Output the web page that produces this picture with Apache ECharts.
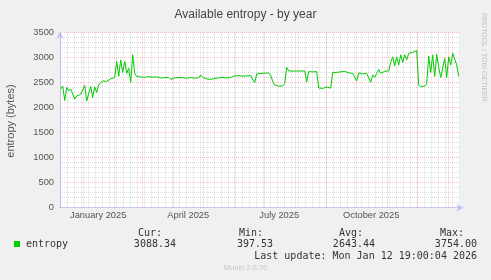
<!DOCTYPE html>
<html><head><meta charset="utf-8">
<script src="https://cdn.jsdelivr.net/npm/echarts@6/dist/echarts.min.js"></script>
<style>html,body{margin:0;padding:0;background:#f0f0f0}#c{width:491px;height:280px}</style>
</head><body><div id="c"></div>
<script>
const chartTitle = 'Available entropy - by year';
const yAxisName = 'entropy (bytes)';
const seriesName = 'entropy';
const watermark = 'RRDTOOL / TOBI OETIKER';
const footer = 'Munin 2.0.76';
const lastUpdate = 'Last update: Mon Jan 12 19:00:04 2026';
const statHeaders = ['Cur:', 'Min:', 'Avg:', 'Max:'];
const statValues = ['3088.34', '397.53', '2643.44', '3754.00'];

// samples every 2 days starting Dec 9 2024
const startTime = Date.UTC(2024, 11, 9, 12);
const stepDays = 2;
const entropy = [
  2370, 2430, 2140, 2400, 2330, 2370, 2340, 2170, 2230, 2200,
  2260, 2280, 2440, 2130, 2100, 2420, 2200, 2410, 2300, 2460,
  2460, 2530, 2500, 2520, 2550, 2570, 2580, 2600, 2920, 2620,
  2950, 2700, 2920, 2680, 2780, 2500, 3050, 2680, 2620,
  2610, 2610, 2620, 2600, 2610, 2615, 2600, 2605, 2620, 2610, 2600, 2590, 2600, 2595, 2605, 2600,
  2560, 2550, 2590,
  2590, 2600, 2585, 2595, 2600, 2580, 2590, 2600, 2595, 2585, 2600, 2590,
  2650, 2600,
  2580, 2570, 2600, 2560, 2590, 2580, 2570, 2590, 2560, 2600, 2580, 2590, 2570, 2600, 2610,
  2630, 2630, 2635, 2630, 2625, 2635, 2630, 2640, 2635, 2630,
  2490,
  2670, 2675, 2680, 2690, 2685, 2695, 2690,
  2640, 2520,
  2450, 2430, 2425, 2440, 2430,
  2480, 2800,
  2730, 2730, 2725, 2730, 2730, 2730, 2725, 2730, 2730,
  2510,
  2715, 2715, 2710, 2715, 2715,
  2390,
  2385, 2380, 2375, 2410, 2380, 2385,
  2700,
  2680, 2700, 2690, 2710, 2690, 2720, 2700, 2690, 2710, 2680, 2700,
  2530,
  2690, 2680, 2670, 2690, 2680, 2670,
  2500, 2650, 2600, 2680, 2760, 2680, 2700, 2720, 2710, 2730,
  2900, 3010, 2830, 3010, 2850, 3050, 2900, 3050, 2950, 3080,
  3110, 3100, 3120, 3140, 2450, 2410, 2400, 2430, 2470, 3030,
  2700, 3050, 2620, 3060, 2800, 2600, 2590, 2980, 2600, 3010,
  2850, 3080, 3060, 2850, 2620
];

const axisStart = Date.UTC(2024, 11, 8, 19);
const axisEnd = Date.UTC(2026, 0, 12, 19);
const monthStarts = ['2025-01-01','2025-02-01','2025-03-01','2025-04-01','2025-05-01','2025-06-01',
  '2025-07-01','2025-08-01','2025-09-01','2025-10-01','2025-11-01','2025-12-01','2026-01-01'];
const labelDates = ['2025-01-16', '2025-04-16', '2025-07-16', '2025-10-16'];
const labelTexts = ['January 2025', 'April 2025', 'July 2025', 'October 2025'];
const firstWeek = '2024-12-09';

const DAY = 86400000;
const ts = s => Date.parse(s + 'T00:00:00Z');
const points = entropy.map((v, i) => [startTime + i * stepDays * DAY, v]);
const weekLines = [];
for (let t = ts(firstWeek); t < axisEnd; t += 7 * DAY) weekLines.push({ xAxis: t });
const monthLines = monthStarts.map(s => ({ xAxis: ts(s) }));
const labelValues = labelDates.map(ts);

const axisColor = '#c8c8f4';
const majorColor = 'rgba(240,60,60,0.32)';
const minorColor = 'rgba(110,110,110,0.22)';
const sans = 'Liberation Sans, Arial, sans-serif';
const mono = 'DejaVu Sans Mono, monospace';

const chart = echarts.init(document.getElementById('c'), null, { renderer: 'canvas' });

const graphics = [
  { type: 'text', x: 11, y: 121, rotation: Math.PI / 2,
    style: { text: yAxisName, font: '11px ' + sans, fill: '#555', align: 'center', verticalAlign: 'middle' } },
  { type: 'text', x: 483.5, y: 13, rotation: -Math.PI / 2,
    style: { text: watermark, font: '7px ' + sans, fill: '#c4c4c4', align: 'left', verticalAlign: 'middle' } },
  { type: 'rect', shape: { x: 14, y: 241, width: 6, height: 6 }, style: { fill: '#00cc00' } },
  { type: 'text', x: 26, y: 244, style: { text: seriesName, font: '10px ' + mono, fill: '#333', align: 'left', verticalAlign: 'middle' } },
  { type: 'text', x: 477, y: 256.5, style: { text: lastUpdate, font: '10px ' + mono, fill: '#333', align: 'right', verticalAlign: 'middle' } },
  { type: 'text', x: 245.5, y: 268, style: { text: footer, font: '7.5px ' + sans, fill: '#c8c8c8', align: 'center', verticalAlign: 'middle' } }
];
const headerRight = [162, 263, 363, 464];
const valueRight = [176, 273, 375, 477];
statHeaders.forEach((h, i) => graphics.push({ type: 'text', x: headerRight[i], y: 233.3,
  style: { text: h, font: '10px ' + mono, fill: '#333', align: 'right', verticalAlign: 'middle' } }));
statValues.forEach((v, i) => graphics.push({ type: 'text', x: valueRight[i], y: 244.3,
  style: { text: v, font: '10px ' + mono, fill: '#333', align: 'right', verticalAlign: 'middle' } }));

chart.setOption({
  animation: false,
  backgroundColor: '#f0f0f0',
  title: { text: chartTitle, left: 'center', top: 4,
    textStyle: { fontFamily: sans, fontSize: 12, fontWeight: 'normal', color: '#444' } },
  grid: { left: 60, right: 31, top: 32.3, bottom: 72.3, show: true, backgroundColor: '#ffffff', borderWidth: 0 },
  xAxis: {
    type: 'value', min: axisStart, max: axisEnd,
    axisLine: { show: true, lineStyle: { color: axisColor, width: 1 }, symbol: ['none', 'arrow'], symbolSize: [6, 8], symbolOffset: [0, 4] },
    axisTick: { show: false },
    splitLine: { show: false },
    axisLabel: {
      customValues: labelValues, margin: 3, fontFamily: sans, fontSize: 9.3, color: '#555',
      formatter: v => { const k = labelValues.indexOf(v); return k >= 0 ? labelTexts[k] : ''; }
    }
  },
  yAxis: {
    type: 'value', min: 0, max: 3500, interval: 500,
    axisLine: { show: true, lineStyle: { color: axisColor, width: 1 }, symbol: ['none', 'arrow'], symbolSize: [6, 8], symbolOffset: [0, 1] },
    axisTick: { show: false },
    axisLabel: { margin: 6, fontFamily: sans, fontSize: 9.3, color: '#555', formatter: v => String(v) },
    splitLine: { show: true, lineStyle: { color: majorColor, type: [1, 1], width: 1 } },
    minorTick: { show: false, splitNumber: 5 },
    minorSplitLine: { show: true, lineStyle: { color: minorColor, type: [1, 1], width: 1 } }
  },
  graphic: graphics,
  series: [
    { type: 'line', name: 'weeks', data: [], z: 1, silent: true,
      markLine: { silent: true, symbol: ['none', 'none'], label: { show: false }, animation: false,
        lineStyle: { color: minorColor, type: [1, 1], width: 1 }, emphasis: { disabled: true }, data: weekLines } },
    { type: 'line', name: 'months', data: [], z: 2, silent: true,
      markLine: { silent: true, symbol: ['none', 'none'], label: { show: false }, animation: false,
        lineStyle: { color: majorColor, type: [1, 1], width: 1 }, emphasis: { disabled: true }, data: monthLines } },
    { type: 'line', name: seriesName, data: points, z: 3, showSymbol: false, symbol: 'none',
      lineStyle: { color: '#00cc00', width: 1 }, itemStyle: { color: '#00cc00' }, silent: true }
  ]
});
</script></body></html>
